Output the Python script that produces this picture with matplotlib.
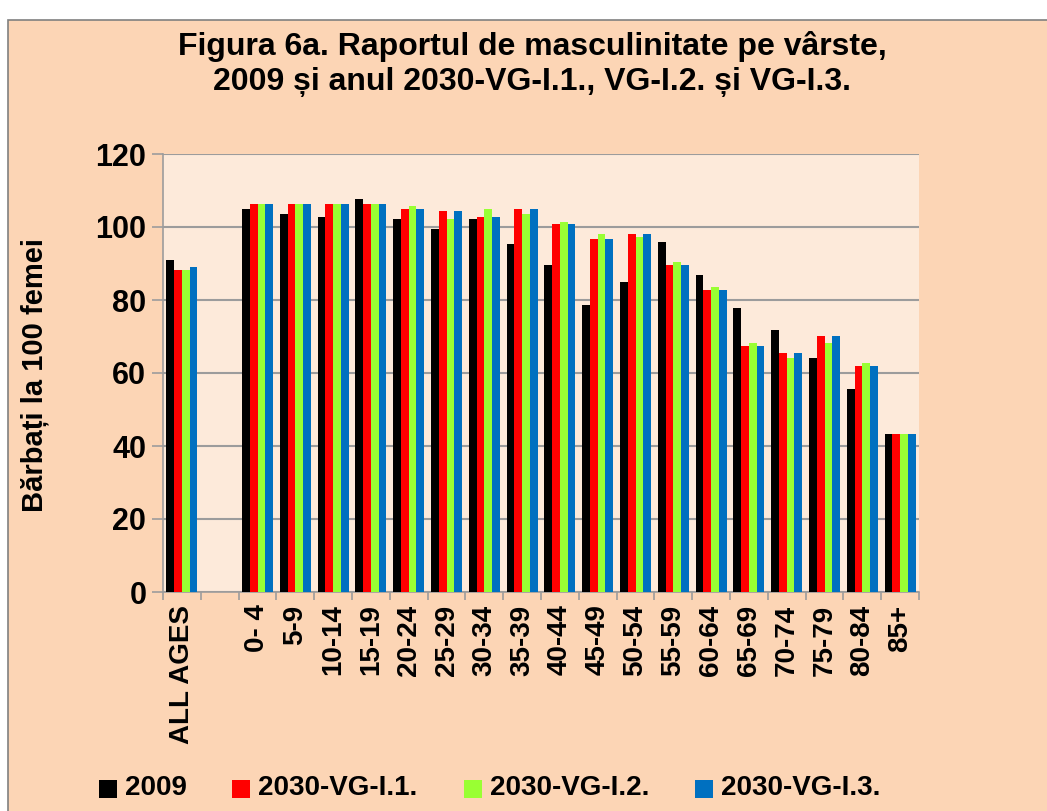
import matplotlib
matplotlib.use('Agg')
import matplotlib.pyplot as plt
import numpy as np
from matplotlib.patches import Rectangle

plt.rcParams['font.family'] = ['Liberation Sans', 'DejaVu Sans']
plt.rcParams['font.weight'] = 'bold'

categorii = ['ALL AGES', '', '0- 4', '5-9', '10-14', '15-19', '20-24', '25-29',
             '30-34', '35-39', '40-44', '45-49', '50-54', '55-59', '60-64',
             '65-69', '70-74', '75-79', '80-84', '85+']

v2009 = [91.0, np.nan, 104.9, 103.6, 102.7, 107.7, 102.2, 99.5, 102.2, 95.3,
         89.6, 78.6, 84.9, 95.9, 86.8, 77.8, 71.8, 64.1, 55.6, 43.3]
vg_i1 = [88.2, np.nan, 106.3, 106.3, 106.3, 106.3, 104.9, 104.4, 102.7, 104.9,
         100.8, 96.7, 98.1, 89.6, 82.7, 67.4, 65.5, 70.1, 61.9, 43.3]
vg_i2 = [88.2, np.nan, 106.3, 106.3, 106.3, 106.3, 105.7, 102.2, 104.9, 103.6,
         101.4, 98.1, 97.3, 90.4, 83.6, 68.2, 64.1, 68.2, 62.7, 43.3]
vg_i3 = [89.0, np.nan, 106.3, 106.3, 106.3, 106.3, 104.9, 104.4, 102.7, 104.9,
         100.8, 96.7, 98.1, 89.6, 82.7, 67.4, 65.5, 70.1, 61.9, 43.3]

serii = ['2009', '2030-VG-I.1.', '2030-VG-I.2.', '2030-VG-I.3.']
culori = ['#000000', '#FF0000', '#99FF33', '#0070C0']

fundal = '#FCD5B5'
fundal_grafic = '#FDEADA'
gri = '#9C9C9C'

W, H = 1047, 811
fig = plt.figure(figsize=(W / 100, H / 100), dpi=100)
fig.patch.set_facecolor('white')
fig.patches.append(Rectangle((8 / W, -0.01), 1.02, 1 - 20 / H + 0.01,
                             transform=fig.transFigure, facecolor=fundal,
                             edgecolor='#808080', linewidth=1.2, zorder=-10))

ax = fig.add_axes([163 / W, 1 - 592 / H, 756 / W, 438 / H])
ax.set_facecolor(fundal_grafic)

x = np.arange(len(categorii)) + 0.5
w = 0.205
for k, (valori, culoare) in enumerate(zip([v2009, vg_i1, vg_i2, vg_i3], culori)):
    ax.bar(x + (k - 1.5) * w, valori, width=w, color=culoare, zorder=3)

ax.set_xlim(0, len(categorii))
ax.set_ylim(0, 120)
ax.set_yticks(range(0, 121, 20))
ax.yaxis.grid(True, color=gri, linewidth=1.5, zorder=0)
ax.set_xticks(x)
ax.set_xticklabels(categorii, rotation=90, fontsize=20, fontweight='bold')
ax.set_xticks(np.arange(len(categorii) + 1), minor=True)
ax.tick_params(axis='x', which='major', length=0, pad=9)
ax.tick_params(axis='x', which='minor', length=6, color=gri, width=1.2)
ax.tick_params(axis='y', length=8, color=gri, width=1.2, labelsize=22, pad=4)
for t in ax.get_yticklabels():
    t.set_fontweight('bold')

for poz in ['top', 'right']:
    ax.spines[poz].set_visible(False)
for poz in ['left', 'bottom']:
    ax.spines[poz].set_color(gri)
    ax.spines[poz].set_linewidth(1.2)

fig.text(35 / W, 1 - 375 / H, 'Bărbați la 100 femei', rotation=90,
         ha='center', va='center', fontsize=21, fontweight='bold')

fig.text(0.508, 1 - 64 / H, 'Figura 6a. Raportul de masculinitate pe vârste,\n'
         '2009 și anul 2030-VG-I.1., VG-I.2. și VG-I.3.',
         ha='center', va='center', fontsize=23, fontweight='bold', linespacing=1.2)

# legenda, asezata manual ca in original
x_leg = [99, 232, 464, 695]
for xs, nume, culoare in zip(x_leg, serii, culori):
    fig.patches.append(Rectangle((xs / W, 1 - 798 / H), 18 / W, 18 / H,
                                 transform=fig.transFigure, facecolor=culoare,
                                 edgecolor='none'))
    fig.text((xs + 26) / W, 1 - 788 / H, nume, ha='left', va='center',
             fontsize=20, fontweight='bold')

fig.savefig('out.png', dpi=100, facecolor=fig.get_facecolor())
